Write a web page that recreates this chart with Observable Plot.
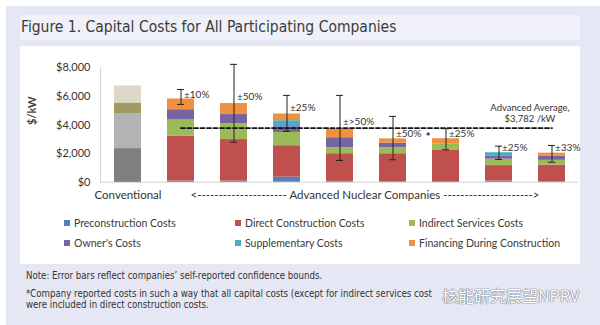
<!DOCTYPE html>
<html>
<head>
<meta charset="utf-8">
<script src="https://cdn.jsdelivr.net/npm/d3@7"></script>
<script src="https://cdn.jsdelivr.net/npm/@observablehq/plot@0.6"></script>
<style>
  html, body { margin: 0; padding: 0; background: #ffffff; }
  #page { position: relative; width: 600px; height: 325px; overflow: hidden; background: #ffffff; }
  .abs { position: absolute; white-space: nowrap; }
  #outer { left: 6px; top: 6px; width: 594px; height: 319px; background: #e5e8f4; }
  #titlebar { left: 20px; top: 15px; width: 560px; height: 25px; background: #eff0f8; }
  #title { left: 21px; top: 18px; font: 15.5px "Liberation Sans Narrow", "DejaVu Sans Condensed", sans-serif; color: #3b3b3b; line-height: 18px; }
  #panel { left: 20px; top: 46px; width: 560px; height: 218px; background: #ffffff; }
  #chart { left: 20px; top: 46px; }
  .leg { font: 10.5px Lato, "Liberation Sans", sans-serif; color: #3a3a3a; line-height: 12px; }
  .sw { position: absolute; width: 6px; height: 6px; }
  .note { font: 9.6px "Liberation Sans Narrow", "DejaVu Sans Condensed", sans-serif; color: #333; line-height: 12px; }
  #wm { left: 442px; top: 285px; font: 16px "Noto Sans CJK SC", sans-serif; color: #ffffff; line-height: 20px;
        text-shadow: 0 0 1px #6d7280, 0 0 1px #6d7280, 0 0 1px #6d7280; }
</style>
</head>
<body>
<div id="page">
  <div class="abs" id="outer"></div>
  <div class="abs" id="titlebar"></div>
  <div class="abs" id="title">Figure 1. Capital Costs for All Participating Companies</div>
  <div class="abs" id="panel"></div>
  <div class="abs" id="chart"></div>
  <div id="legend"></div>
  <div class="abs note" style="left:26px; top:270px;">Note: Error bars reflect companies’ self-reported confidence bounds.</div>
  <div class="abs note" style="left:26px; top:288px;">*Company reported costs in such a way that all capital costs (except for indirect services cost</div>
  <div class="abs note" style="left:26px; top:298.5px;">were included in direct construction costs.</div>
  <div class="abs" id="wm">核能研究展望NPRV</div>
</div>
<script>
// ---- data ----
const companies = ["Conventional", "Co. 1", "Co. 2", "Co. 3", "Co. 4", "Co. 5", "Co. 6", "Co. 7", "Co. 8"];
const series = ["Preconstruction Costs", "Direct Construction Costs", "Indirect Services Costs",
                "Owner's Costs", "Supplementary Costs", "Financing During Construction"];
const preconstruction = [100, 80, 80, 350, 60, 50, 0, 80, 50];
const directConstruction = [2250, 3150, 2900, 2200, 1930, 1940, 2220, 1080, 1150];
const indirectServices = [2450, 1120, 1120, 930, 420, 420, 470, 450, 330];
const ownersCosts = [740, 720, 630, 400, 700, 320, 0, 230, 300];
const supplementary = [0, 0, 0, 420, 0, 0, 0, 220, 0];
const financing = [1190, 750, 770, 470, 630, 300, 350, 0, 200];
const errorLow = [null, 5440, 2800, 3550, 1520, 1570, 2270, 1590, 1400];
const errorHigh = [null, 6480, 8240, 6070, 6070, 4600, 3740, 2520, 2570];
const errorLabels = ["", "±10%", "±50%", "±25%", "±>50%", "±50%", "±25%", "±25%", "±33%"];
const errorLabelAt = [null, 6140, 6000, 5230, 4250, 3410, 3410, 2410, 2430];
const footnoteMark = ["", "", "", "", "", "", "*", "", ""];
const advancedAverage = 3782;
const averageLabel = "Advanced Average,\n$3,782 /kW";
const yTicks = [0, 2000, 4000, 6000, 8000];
const conventionalLabel = "Conventional";
const advancedLabel = "<" + "-".repeat(21) + " Advanced Nuclear Companies " + "-".repeat(21) + ">";
const yLabel = "$/kW";

// ---- styles ----
const advColors = ["#4f81bd", "#c0504d", "#9bbb59", "#7964a2", "#4bacc6", "#f0913f"];
const convColors = ["#5f5f5f", "#7f7f7f", "#b3b3b3", "#a19a62", "#9a9a9a", "#ddd9c6"];

const seriesValues = [preconstruction, directConstruction, indirectServices, ownersCosts, supplementary, financing];
const rows = [];
companies.forEach((c, i) => seriesValues.forEach((arr, j) => rows.push({
  company: c, series: series[j], value: arr[i], conventional: i === 0
})));
const errRows = companies.map((c, i) => ({company: c, lo: errorLow[i], hi: errorHigh[i], label: errorLabels[i], at: errorLabelAt[i]}))
  .filter(d => d.lo != null);
const starRows = companies.map((c, i) => ({company: c, mark: footnoteMark[i], at: errorLabelAt[i]})).filter(d => d.mark);
const avgRows = companies.slice(1).map(c => ({company: c, value: advancedAverage}));
const fmt = d3.format(",");

const chart = Plot.plot({
  width: 560,
  height: 164,
  marginLeft: 80,
  marginRight: 2,
  marginTop: 21.3,
  marginBottom: 28.3,
  x: {domain: companies, paddingInner: 0.5, paddingOuter: 0.24, axis: null},
  y: {domain: [0, 8000], axis: null},
  color: {type: "identity"},
  style: {fontFamily: "Lato, 'Liberation Sans', sans-serif", fontSize: "11px", color: "#333", background: "transparent", overflow: "visible"},
  marks: [
    Plot.frame({anchor: "left", stroke: "#d4d4d4"}),
    Plot.ruleY([0], {stroke: "#d4d4d4"}),
    Plot.axisY({ticks: yTicks, tickSize: 0, tickPadding: 10, tickFormat: d => "$" + fmt(d), fontSize: 11, label: null}),
    Plot.text([yLabel], {frameAnchor: "left", dx: -68, rotate: -90, fontSize: 11, fontWeight: "bold", fill: "#444"}),
    Plot.barY(rows, Plot.stackY({
      x: "company", y: "value", z: "series", order: null,
      fill: d => (d.conventional ? convColors : advColors)[series.indexOf(d.series)]
    })),
    Plot.lineY(avgRows, {x: "company", y: "value", stroke: "#111", strokeWidth: 1.9, strokeDasharray: "4,2.5"}),
    Plot.ruleX(errRows, {x: "company", y1: "lo", y2: "hi", stroke: "#222", strokeWidth: 1}),
    Plot.tickY(errRows, {x: "company", y: "hi", insetLeft: 10, insetRight: 10, stroke: "#222", strokeWidth: 1}),
    Plot.tickY(errRows, {x: "company", y: "lo", insetLeft: 10, insetRight: 10, stroke: "#222", strokeWidth: 1}),
    Plot.text(errRows, {x: "company", y: "at", text: "label", textAnchor: "start", dx: 3, fontSize: 10, fill: "#333"}),
    Plot.text(starRows, {x: "company", y: "at", text: "mark", dx: -18, dy: 4, fontSize: 12, fontWeight: "bold", fill: "#222"}),
    Plot.text([averageLabel], {x: () => companies[8], y: () => advancedAverage, text: d => d, dx: -22, dy: -15,
      lineAnchor: "middle", lineHeight: 1.2, fontSize: 9.5, fill: "#333"}),
    Plot.text([conventionalLabel], {x: d => d, text: d => d, frameAnchor: "bottom", dy: 17, fontSize: 11.5, fill: "#333"}),
    Plot.text([advancedLabel], {x: () => companies[4], text: d => d, frameAnchor: "bottom", dy: 17, dx: 25, fontSize: 11.5, fill: "#333"})
  ]
});
document.getElementById("chart").appendChild(chart);

// legend (HTML, below the chart)
const legendPos = [[74, 217], [245, 217], [419, 217], [74, 237], [245, 237], [419, 237]];
const legend = document.getElementById("legend");
series.forEach((s, j) => {
  const item = document.createElement("div");
  item.className = "abs leg";
  item.style.left = legendPos[j][0] + "px";
  item.style.top = legendPos[j][1] + "px";
  item.textContent = s;
  const sw = document.createElement("div");
  sw.className = "sw";
  sw.style.background = advColors[j];
  sw.style.left = (legendPos[j][0] - 10) + "px";
  sw.style.top = (legendPos[j][1] + 3) + "px";
  legend.appendChild(sw);
  legend.appendChild(item);
});
</script>
</body>
</html>
